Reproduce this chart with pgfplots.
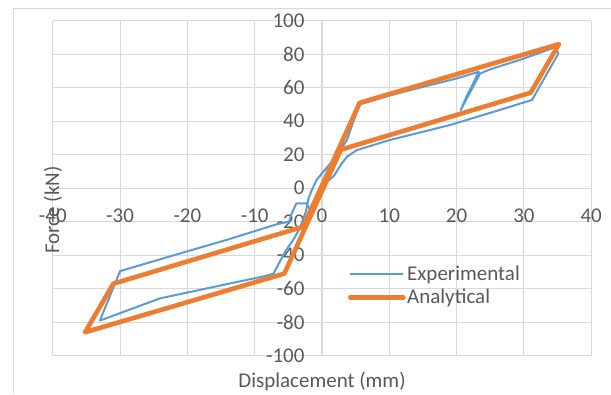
\documentclass[border=0pt]{standalone}
\usepackage{pgfplots}
\pgfplotsset{compat=1.18}
\usepackage{fontspec}
\setmainfont{Carlito}
\definecolor{expblue}{HTML}{5B9BD5}
\definecolor{anaorange}{HTML}{ED7D31}
\definecolor{gridgray}{HTML}{D9D9D9}
\definecolor{txtgray}{HTML}{595959}
\newcommand{\chartfont}{\fontsize{21bp}{25bp}\selectfont}
\begin{document}
\begin{tikzpicture}[x=1bp,y=1bp]
\useasboundingbox (0,0) rectangle (611,394);
\draw[gridgray, line width=1bp] (13,0) -- (13,385) -- (611,385);
\begin{axis}[
  at={(52.8bp,38.3bp)}, anchor=south west,
  scale only axis, width=538.4bp, height=335bp,
  xmin=-40, xmax=40, ymin=-100, ymax=100,
  axis lines=middle,
  axis line style={-, draw=gridgray, line width=1.1bp},
  hide obscured x ticks=false, hide obscured y ticks=false,
  xtick={-40,-30,...,40}, ytick={-100,-80,...,100},
  major tick length=0pt,
  grid=major,
  grid style={gridgray, line width=1.1bp},
  /pgf/number format/assume math mode=true,
  tick label style={font=\chartfont, text=txtgray},
  xticklabel style={anchor=north, yshift=-17bp},
  yticklabel style={anchor=east, xshift=-14bp},
  xlabel={Displacement (mm)},
  ylabel={Force (kN)},
  xlabel style={at={(axis description cs:0.5,0)}, anchor=center, yshift=-25.5bp, font=\chartfont, text=txtgray},
  ylabel style={at={(axis description cs:0,0.5)}, anchor=center, rotate=90, xshift=-21.8bp, font=\chartfont, text=txtgray},
  legend style={at={(0.548,0.274)}, anchor=north west, draw=none, fill=none,
    font=\chartfont, text=txtgray, inner sep=0pt, row sep=4.5bp,
    nodes={inner sep=1.5bp}},
  legend cell align=left,
  legend image code/.code={\draw[#1] (0bp,0bp) -- (53bp,0bp);},
]
\addplot[expblue, line width=2bp, line join=round] coordinates {
(0,0)(0.6,5.5)(1.7,15.5)(2.7,22.5)(3.7,28.8)(4.6,39)(5.6,50)(10,55.3)(15,60.5)(20,65.5)(23.3,69.5)
(22.4,62)(21.5,55)(20.6,46.5)(21.3,52)(22.5,61)(23.5,68.5)(25,71)(29.7,77)(34.4,83.8)(35.1,81)
(35.0,79.5)(31.2,52.7)(26.4,46.7)(19,37.7)(10.1,28.8)(5.2,22.8)(3.7,18.8)(2.8,14)(1.8,7.5)(0.94,4.5)
(0.2,3.7)(-0.3,-1)(-0.8,-5)(-1.3,-10)(-1.8,-13)(-2.3,-9)(-3.8,-9)(-4.5,-15)(-4.9,-20)(-6.7,-21.5)
(-14.2,-30.9)(-22,-40)(-30,-49.5)(-33,-79)(-32.3,-78)(-24.1,-65.8)(-15,-58)(-8.5,-52.5)(-7.2,-51)
(-5.5,-38)(-4.3,-31)(-3.3,-24)(-2.4,-14)(-2,-6)(-1.5,-1)(-0.8,5)(0.2,9.9)(1.7,16.8)(2.7,22.8)
};
\addlegendentry{Experimental}
\addplot[anaorange, line width=4.6bp, line join=round, line cap=round] coordinates {
(5.6,51)(35.2,86)(31,57)(2.8,23)(-5.6,-51)(-35.2,-86)(-31,-57)(-2.8,-23)(5.6,51)
};
\addlegendentry{Analytical}
\end{axis}
\end{tikzpicture}
\end{document}
